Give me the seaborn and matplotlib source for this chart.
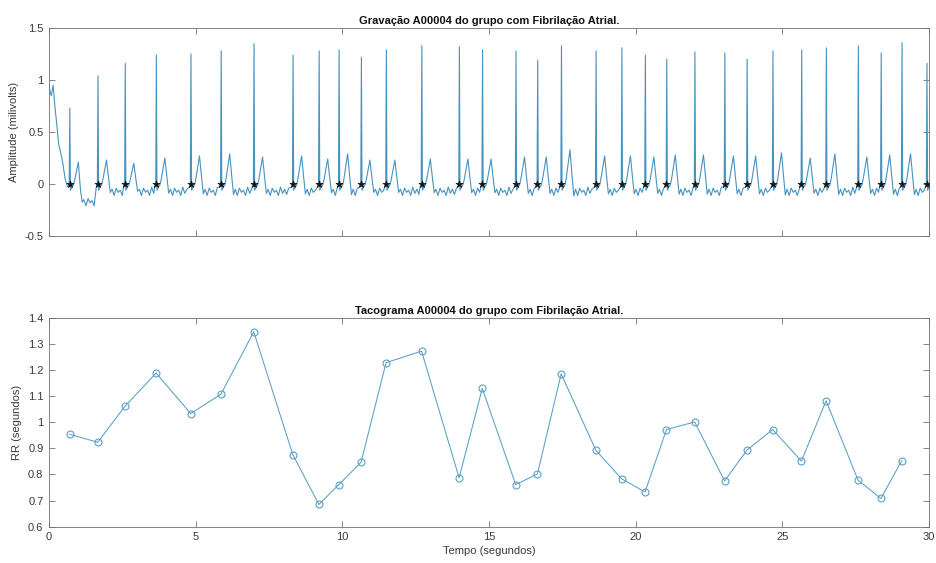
import numpy as np
import pandas as pd
import matplotlib
matplotlib.use("Agg")
import matplotlib.pyplot as plt
import seaborn as sns

# ---------------- data ----------------
# R-peak times (s) detected in the recording
beat_times = [0.70, 1.66, 2.59, 3.65, 4.83, 5.86, 6.98, 8.31, 9.20, 9.88,
              10.64, 11.49, 12.70, 13.98, 14.77, 15.91, 16.65, 17.46, 18.64, 19.52,
              20.32, 21.05, 22.01, 23.03, 23.79, 24.67, 25.65, 26.49, 27.58, 28.36,
              29.07, 29.92]
# R-peak amplitudes (mV)
r_amplitudes = [0.73, 1.04, 1.16, 1.24, 1.25, 1.28, 1.35, 1.24, 1.28, 1.29,
                1.22, 1.29, 1.33, 1.32, 1.29, 1.28, 1.19, 1.33, 1.28, 1.31,
                1.24, 1.20, 1.27, 1.26, 1.20, 1.28, 1.29, 1.31, 1.33, 1.26,
                1.36, 1.16]
# T-wave amplitudes (mV)
t_amplitudes = [0.21, 0.23, 0.20, 0.25, 0.27, 0.29, 0.26, 0.27, 0.24, 0.29,
                0.23, 0.23, 0.24, 0.24, 0.24, 0.26, 0.26, 0.33, 0.27, 0.27,
                0.26, 0.28, 0.28, 0.27, 0.27, 0.30, 0.25, 0.29, 0.26, 0.28,
                0.29, 0.0]
# baseline level shift after each beat (mV)
baseline_shift = [-0.10, 0.0, 0.0, 0.0, 0.0, 0.0, 0.0, 0.0, 0.0, 0.0,
                  0.0, 0.0, 0.0, 0.0, 0.0, 0.0, 0.0, 0.0, 0.0, 0.0,
                  0.0, 0.0, 0.0, 0.0, 0.0, 0.0, 0.0, 0.0, 0.0, 0.0,
                  0.0, 0.0]

# start of the recording, before the first beat
start_times = [0.00, 0.05, 0.08, 0.14, 0.20, 0.27, 0.33, 0.40, 0.47, 0.55, 0.62]
start_values = [0.95, 0.87, 0.85, 0.95, 0.75, 0.56, 0.38, 0.30, 0.20, 0.05, -0.02]

# shape of one beat around the R peak (offsets in s)
qrs_offsets = [-0.05, -0.012, 0.01, 0.03, 0.08, 0.13]
qrs_values = [-0.03, -0.01, 1.0, -0.06, -0.03, -0.01]   # 1.0 -> R amplitude
t_offsets = [0.17, 0.23, 0.30, 0.37, 0.43]
t_shape = [0.15, 0.55, 1.00, 0.25, -0.35]               # times T amplitude
# fibrillatory baseline after the T wave
wiggle_offsets = [0.49, 0.56, 0.63, 0.70, 0.77, 0.84, 0.91, 0.98, 1.05, 1.12,
                  1.19, 1.26, 1.33]
wiggle_values = [-0.05, -0.11, -0.04, -0.08, -0.06, -0.11, -0.03, -0.09, -0.05,
                 -0.10, -0.04, -0.07, -0.05]

# tachogram: RR intervals (s)
rr_values = [0.954, 0.923, 1.061, 1.188, 1.033, 1.107, 1.346, 0.876, 0.685, 0.761,
             0.847, 1.228, 1.272, 0.787, 1.129, 0.761, 0.802, 1.185, 0.893, 0.783,
             0.733, 0.972, 1.001, 0.775, 0.893, 0.972, 0.851, 1.082, 0.778, 0.708,
             0.853]

signal_end = 30.0

# ---------------- assemble the ECG trace from read values ----------------
ts = list(start_times)
vs = list(start_values)
for i, (bt, ra, ta, sh) in enumerate(zip(beat_times, r_amplitudes, t_amplitudes, baseline_shift)):
    nxt = beat_times[i + 1] if i + 1 < len(beat_times) else signal_end + 0.2
    for o, v in zip(qrs_offsets, qrs_values):
        t = bt + o
        if t > signal_end:
            break
        ts.append(t)
        vs.append(ra if v == 1.0 else v)
    for o, v in zip(t_offsets, t_shape):
        t = bt + o
        if t > signal_end or t > nxt - 0.08:
            break
        ts.append(t)
        vs.append(ta * v + (sh if o > 0.33 else 0.0))
    for o, v in zip(wiggle_offsets, wiggle_values):
        t = bt + o
        if t > nxt - 0.08 or t > signal_end:
            break
        ts.append(t)
        vs.append(v + sh)

ecg = pd.DataFrame({"t": ts, "v": vs})
peaks = pd.DataFrame({"t": beat_times, "v": [0.0] * len(beat_times)})
tach = pd.DataFrame({"t": beat_times[:-1], "rr": rr_values})

# ---------------- plotting ----------------
sns.set_theme(style="white")
plt.rcParams["font.family"] = ["Liberation Sans", "DejaVu Sans"]

ecg_color = "#4693c0"
tach_color = "#5c9fc7"
axis_color = "#707070"
text_color = "#3a3a3a"
fs = 8

fig = plt.figure(figsize=(9.37, 5.63), dpi=100)
ax1 = fig.add_axes([0.0523, 0.5808, 0.9392, 0.3694])
ax2 = fig.add_axes([0.0523, 0.0645, 0.9392, 0.3712])

sns.lineplot(data=ecg, x="t", y="v", ax=ax1, color=ecg_color, linewidth=0.8,
             estimator=None, sort=False)
sns.scatterplot(data=peaks, x="t", y="v", ax=ax1, marker="*", s=28, color="#151515",
                edgecolor="#151515", linewidth=0.5, zorder=3)

sns.lineplot(data=tach, x="t", y="rr", ax=ax2, color=tach_color, linewidth=0.75,
             estimator=None, sort=False, marker="o", markersize=5,
             markerfacecolor="none", markeredgecolor=tach_color, markeredgewidth=0.8)

fmt = matplotlib.ticker.FuncFormatter(lambda v, p: f"{v:g}")
for ax in (ax1, ax2):
    ax.set_xlim(0, 30)
    ax.set_xticks([0, 5, 10, 15, 20, 25, 30])
    ax.yaxis.set_major_formatter(fmt)
    ax.tick_params(direction="in", length=4.5, width=0.6, colors=axis_color,
                   labelcolor=text_color, labelsize=fs, top=True, right=True,
                   bottom=True, left=True, pad=4)
    for s in ax.spines.values():
        s.set_color(axis_color)
        s.set_linewidth(0.6)
        s.set_visible(True)
    ax.set_xlabel("")
    ax.set_ylabel("")

ax1.set_ylim(-0.5, 1.5)
ax1.set_yticks([-0.5, 0, 0.5, 1, 1.5])
ax1.set_xticklabels([])
ax1.set_ylabel("Amplitude (milivolts)", fontsize=fs, color=text_color, labelpad=4)
ax1.set_title("Gravação A00004 do grupo com Fibrilação Atrial.", fontsize=fs,
              fontweight="bold", color="#111111", pad=3)

ax2.set_ylim(0.6, 1.4)
ax2.set_yticks([0.6, 0.7, 0.8, 0.9, 1.0, 1.1, 1.2, 1.3, 1.4])
ax2.set_xlabel("Tempo (segundos)", fontsize=fs, color=text_color, labelpad=3)
ax2.set_ylabel("RR (segundos)", fontsize=fs, color=text_color, labelpad=4)
ax2.set_title("Tacograma A00004 do grupo com Fibrilação Atrial.", fontsize=fs,
              fontweight="bold", color="#111111", pad=3)

fig.savefig("out.png", dpi=100)
